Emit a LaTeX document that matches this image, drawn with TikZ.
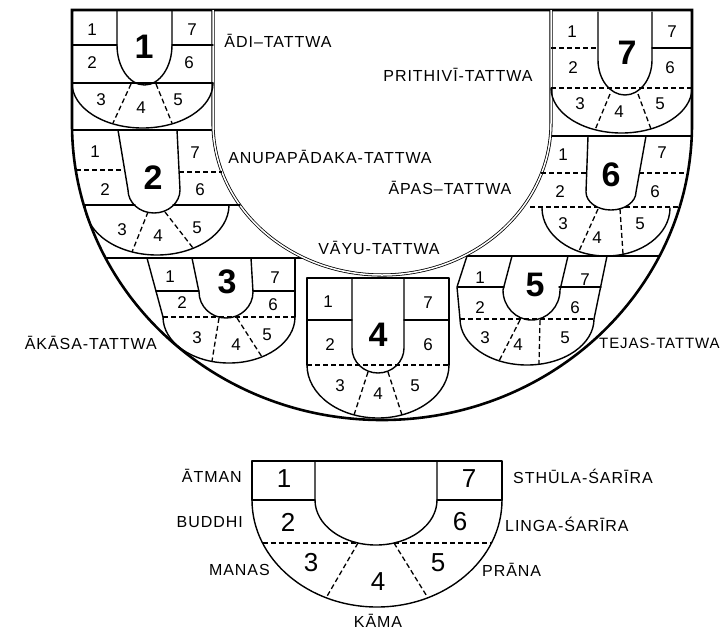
\documentclass[tikz,border=0pt]{standalone}
\usepackage{fontspec}
\setmainfont{Liberation Sans}
\newfontfamily\lf[LetterSpace=6]{Liberation Sans}
\begin{document}
\begin{tikzpicture}[x=1pt,y=-1pt,
  edge/.style={line width=1.4pt, line join=round, line cap=round},
  wall/.style={line width=2.6pt, line join=miter},
  dbl/.style={double, line width=0.8pt, double distance=1.5pt},
  dsh/.style={line width=1.3pt, dash pattern=on 5pt off 3pt},
  sn/.style={font=\fontsize{17}{17}\selectfont, inner sep=0pt},
  bn/.style={font=\fontsize{34}{34}\selectfont\bfseries, inner sep=0pt},
  mn/.style={font=\fontsize{26}{26}\selectfont, inner sep=0pt},
  lb/.style={font=\lf\fontsize{16}{16}\selectfont, inner sep=0pt},
]
\useasboundingbox (0,0) rectangle (728,633);

% band lines
\draw[edge] (72,130) -- (213,130);
\draw[edge] (551,136) -- (692,136);
\draw[edge] (106,258) -- (304,258);
\draw[edge] (464,256) -- (659,256);

% outer boundary
\draw[wall] (72,10) -- (72,124) arc[start angle=180, end angle=0, x radius=310, y radius=296] -- (692,10) -- cycle;
% central area
\draw[dbl] (213,10) -- (213,123) arc[start angle=180, end angle=0, x radius=169, y radius=152] -- (551,10);

% ---------- seal 1 ----------
\draw[edge] (117,10) -- (117,45) arc[start angle=180, end angle=0, x radius=27.5, y radius=40] -- (172,10);
\draw[edge] (72,45) -- (117,45) (172,45) -- (213,45);
\draw[edge] (72,83) -- (213,83);
\draw[edge] (72,83) arc[start angle=180, end angle=0, x radius=70.5, y radius=45];
\draw[dsh] (131,84) -- (113,123);
\draw[dsh] (156,84) -- (172,123);
\node[sn] (a1) at (92,30) {1};
\node[sn] (a7) at (192,30) {7};
\node[sn] (a2) at (92,63) {2};
\node[sn] (a6) at (189,63) {6};
\node[sn] (a3) at (101,100) {3};
\node[sn] (a4) at (141,108) {4};
\node[sn] (a5) at (178,100) {5};
\node[bn] (A) at (144,47) {1};

% ---------- seal 7 ----------
\draw[edge] (598,12) -- (598,60) arc[start angle=180, end angle=0, x radius=27, y radius=35] -- (652,12);
\draw[dsh] (551,48) -- (598,48);
\draw[edge] (652,48) -- (692,48);
\draw[dsh] (551,88) -- (692,88);
\draw[edge] (551,88) arc[start angle=180, end angle=0, x radius=70.5, y radius=45];
\draw[dsh] (610,94) -- (595,130);
\draw[dsh] (638,94) -- (651,129);
\node[sn] (g1) at (572,32) {1};
\node[sn] (g7) at (672,32) {7};
\node[sn] (g2) at (573,68) {2};
\node[sn] (g6) at (670,68) {6};
\node[sn] (g3) at (580,104) {3};
\node[sn] (g4) at (619,112) {4};
\node[sn] (g5) at (660,104) {5};
\node[bn] (G) at (627,53) {7};

% ---------- seal 2 ----------
\draw[edge] (118,130) -- (128,190) arc[start angle=180, end angle=0, x radius=26, y radius=23] -- (177,130);
\draw[dsh] (76,170) -- (124.7,170);
\draw[dsh] (179,172) -- (222,172);
\draw[edge] (84,205) -- (135,205) (173,205) -- (240,205);
\draw[edge] (85,205) arc[start angle=180, end angle=0, x radius=72, y radius=50];
\draw[dsh] (148,212) -- (132,252);
\draw[dsh] (165,212) -- (193,248);
\node[sn] (b1) at (95,152) {1};
\node[sn] (b7) at (195,153) {7};
\node[sn] (b2) at (105,190) {2};
\node[sn] (b6) at (200,190) {6};
\node[sn] (b3) at (122,230) {3};
\node[sn] (b4) at (158,236) {4};
\node[sn] (b5) at (197,228) {5};
\node[bn] (B) at (153,178) {2};

% ---------- seal 6 ----------
\draw[edge] (588,136) -- (586,192) arc[start angle=180, end angle=0, x radius=25, y radius=18] -- (646,136);
\draw[dsh] (541,173) -- (587,173);
\draw[dsh] (639.4,173) -- (688,173);
\draw[dsh] (530,207) -- (597,207) (625,207) -- (680,207);
\draw[edge] (542,208) arc[start angle=180, end angle=0, x radius=64, y radius=48];
\draw[dsh] (598,209) -- (579,251);
\draw[dsh] (620,209) -- (623,254);
\node[sn] (f1) at (563,155) {1};
\node[sn] (f7) at (662,153) {7};
\node[sn] (f2) at (560,192) {2};
\node[sn] (f6) at (655,192) {6};
\node[sn] (f3) at (563,224) {3};
\node[sn] (f4) at (597,238) {4};
\node[sn] (f5) at (640,224) {5};
\node[bn] (F) at (611,175) {6};

% ---------- seal 3 ----------
\draw[edge] (147,258) -- (163,317);
\draw[edge] (295,258) -- (295,317);
\draw[edge] (192,258) -- (199,292) arc[start angle=180, end angle=0, x radius=27, y radius=26] -- (251,258);
\draw[edge] (156,291) -- (199,291) (253,291) -- (295,291);
\draw[dsh] (163,317) -- (295,317);
\draw[edge] (163,317) arc[start angle=180, end angle=0, x radius=66, y radius=46];
\draw[dsh] (219,318) -- (212,361);
\draw[dsh] (237,318) -- (262,357);
\node[sn] (c1) at (170,277) {1};
\node[sn] (c7) at (275,278) {7};
\node[sn] (c2) at (182,303) {2};
\node[sn] (c6) at (273,305) {6};
\node[sn] (c3) at (197,338) {3};
\node[sn] (c4) at (236,345) {4};
\node[sn] (c5) at (267,335) {5};
\node[bn] (C) at (227,282) {3};

% ---------- seal 4 ----------
\draw[edge] (307,365) -- (307,278) -- (449,278) -- (449,365);
\draw[edge] (352,278) -- (352,348) arc[start angle=180, end angle=0, x radius=26, y radius=25] -- (404,278);
\draw[edge] (307,320) -- (352,320) (404,320) -- (449,320);
\draw[dsh] (307,365) -- (449,365);
\draw[edge] (307,365) arc[start angle=180, end angle=0, x radius=71, y radius=53];
\draw[dsh] (368,372) -- (354,415);
\draw[dsh] (388,372) -- (402,415);
\node[sn] (d1) at (328,302) {1};
\node[sn] (d7) at (428,303) {7};
\node[sn] (d2) at (330,345) {2};
\node[sn] (d6) at (428,345) {6};
\node[sn] (d3) at (340,386) {3};
\node[sn] (d4) at (378,394) {4};
\node[sn] (d5) at (415,386) {5};
\node[bn] (D) at (378,335) {4};

% ---------- seal 5 ----------
\draw[edge] (467,256) -- (457,287) -- (460,319);
\draw[edge] (607,256) -- (594,319);
\draw[edge] (512,256) -- (503,290) arc[start angle=180, end angle=0, x radius=28.5, y radius=30] -- (568,256);
\draw[edge] (458,287) -- (504,287) (559,287) -- (601,287);
\draw[dsh] (460,319) -- (594,319);
\draw[edge] (460,319) arc[start angle=180, end angle=0, x radius=67, y radius=46];
\draw[dsh] (520,320) -- (499,361);
\draw[dsh] (540,320) -- (539,364);
\node[sn] (e1) at (480,278) {1};
\node[sn] (e7) at (585,280) {7};
\node[sn] (e2) at (480,308) {2};
\node[sn] (e6) at (575,308) {6};
\node[sn] (e3) at (485,338) {3};
\node[sn] (e4) at (518,345) {4};
\node[sn] (e5) at (565,338) {5};
\node[bn] (E) at (535,285) {5};

% ---------- bottom seal ----------
\draw[edge] (252,500) -- (252,461) -- (502,461) -- (502,500);
\draw[edge] (252,500) arc[start angle=180, end angle=0, x radius=125, y radius=107];
\draw[edge] (315,461) -- (315,500) arc[start angle=180, end angle=0, x radius=61, y radius=45] -- (437,461);
\draw[edge] (252,500) -- (315,500) (437,500) -- (502,500);
\draw[dsh] (262.5,543) -- (358,543) (394,543) -- (491.5,543);
\draw[dsh] (358,543) -- (326,598);
\draw[dsh] (394,543) -- (428,598);
\node[mn] (h1) at (284,479) {1};
\node[mn] (h7) at (469,479) {7};
\node[mn] (h2) at (288,522) {2};
\node[mn] (h6) at (460,522) {6};
\node[mn] (h3) at (311,563) {3};
\node[mn] (h4) at (378,582) {4};
\node[mn] (h5) at (438,563) {5};

% ---------- labels ----------
\node[lb] (adi) at (278,41) {ĀDI–TATTWA};
\node[lb] (pri) at (458,75) {PRITHIVĪ-TATTWA};
\node[lb] (anu) at (330,157) {ANUPAPĀDAKA-TATTWA};
\node[lb] (apa) at (450,188) {ĀPAS–TATTWA};
\node[lb] (vay) at (379,248) {VĀYU-TATTWA};
\node[lb, anchor=east] (aka) at (157,343) {ĀKĀSA-TATTWA};
\node[lb, anchor=west, font=\lf\fontsize{15}{15}\selectfont] (tej) at (599,343) {TEJAS-TATTWA};
\node[lb, anchor=east] (atm) at (242,476) {ĀTMAN};
\node[lb, anchor=west] (sth) at (513,476) {STHŪLA-ŚARĪRA};
\node[lb, anchor=east] (bud) at (243,522) {BUDDHI};
\node[lb, anchor=west] (lin) at (505,524) {LINGA-ŚARĪRA};
\node[lb, anchor=east] (man) at (270,570) {MANAS};
\node[lb, anchor=west] (pra) at (482,570) {PRĀNA};
\node[lb] (kam) at (378,621) {KĀMA};
\end{tikzpicture}
\end{document}
